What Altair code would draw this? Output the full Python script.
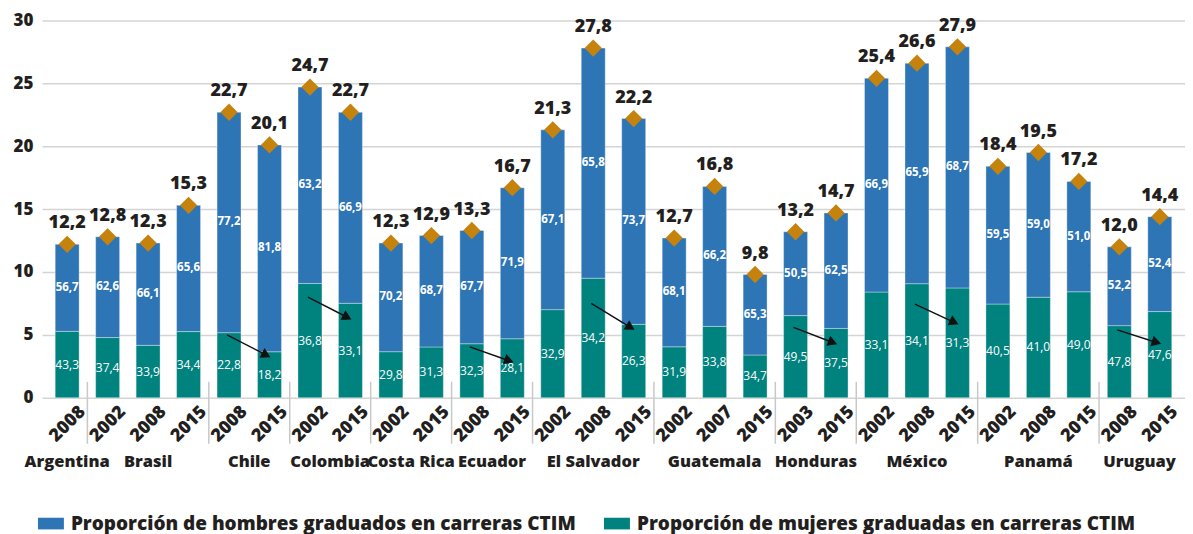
import math
import altair as alt
import pandas as pd

# ---------------- data ----------------
countries = ["Argentina", "Brasil", "Brasil", "Brasil", "Chile", "Chile",
             "Colombia", "Colombia", "Costa Rica", "Costa Rica", "Ecuador", "Ecuador",
             "El Salvador", "El Salvador", "El Salvador", "Guatemala", "Guatemala", "Guatemala",
             "Honduras", "Honduras", "México", "México", "México",
             "Panamá", "Panamá", "Panamá", "Uruguay", "Uruguay"]
years = ["2008", "2002", "2008", "2015", "2008", "2015", "2002", "2015", "2002", "2015",
         "2008", "2015", "2002", "2008", "2015", "2002", "2007", "2015", "2003", "2015",
         "2002", "2008", "2015", "2002", "2008", "2015", "2008", "2015"]
totals = [12.2, 12.8, 12.3, 15.3, 22.7, 20.1, 24.7, 22.7, 12.3, 12.9, 13.3, 16.7,
          21.3, 27.8, 22.2, 12.7, 16.8, 9.8, 13.2, 14.7, 25.4, 26.6, 27.9,
          18.4, 19.5, 17.2, 12.0, 14.4]
men_pct = [56.7, 62.6, 66.1, 65.6, 77.2, 81.8, 63.2, 66.9, 70.2, 68.7, 67.7, 71.9,
           67.1, 65.8, 73.7, 68.1, 66.2, 65.3, 50.5, 62.5, 66.9, 65.9, 68.7,
           59.5, 59.0, 51.0, 52.2, 52.4]
women_pct = [43.3, 37.4, 33.9, 34.4, 22.8, 18.2, 36.8, 33.1, 29.8, 31.3, 32.3, 28.1,
             32.9, 34.2, 26.3, 31.9, 33.8, 34.7, 49.5, 37.5, 33.1, 34.1, 31.3,
             40.5, 41.0, 49.0, 47.8, 47.6]

# arrows: start bar index, start / end heights
arrow_from = [4, 6, 10, 13, 18, 21, 26]
arrow_y0 = [5.0, 8.0, 4.05, 7.5, 5.6, 7.45, 5.4]
arrow_y1 = [3.4, 6.4, 2.95, 5.6, 4.4, 6.0, 4.4]

SER_M = "Proporción de hombres graduados en carreras CTIM"
SER_W = "Proporción de mujeres graduadas en carreras CTIM"

# ---------------- style ----------------
W, H = 1145, 378
N = len(totals)
BLUE, TEAL, GOLD, INK = "#2E75B6", "#00827F", "#C5830E", "#231f20"
FONT = "Open Sans"
HEAVY = 800


def fmt(v):
    return f"{v:.1f}".replace(".", ",")


rows, seg_rows = [], []
for i in range(N):
    w = totals[i] * women_pct[i] / 100
    rows.append(dict(idx=i, country=countries[i], year=years[i], total=totals[i],
                     tlabel=fmt(totals[i])))
    seg_rows.append(dict(idx=i, series=SER_W, y0=0, y1=w, mid=w / 2,
                         label=fmt(women_pct[i])))
    seg_rows.append(dict(idx=i, series=SER_M, y0=w, y1=totals[i],
                         mid=(w + totals[i]) / 2, label=fmt(men_pct[i])))
bars_df = pd.DataFrame(rows)
seg_df = pd.DataFrame(seg_rows)

px_x = W / N
px_y = H / 30
arr_rows = []
for s, a, b in zip(arrow_from, arrow_y0, arrow_y1):
    x0, x1 = s - 0.05, s + 1 - 0.08
    ang = math.degrees(math.atan2((a - b) * px_y, (x1 - x0) * px_x))
    arr_rows.append(dict(x0=x0, x1=x1, y0=a, y1=b, ang=ang))
arr_df = pd.DataFrame(arr_rows)

# country groups
grp = []
order_c = []
for c in countries:
    if c not in order_c:
        order_c.append(c)
for c in order_c:
    ids = [i for i in range(N) if countries[i] == c]
    grp.append(dict(country=c, center=sum(ids) / len(ids), start=min(ids) - 0.5))
grp_df = pd.DataFrame(grp)
sep_df = grp_df.iloc[1:]

x_scale = alt.Scale(domain=[-0.5, N - 0.5], nice=False, zero=False)
y_scale = alt.Scale(domain=[0, 30], nice=False)

years_js = "[" + ",".join(f"'{y}'" for y in years) + "]"

x_axis = alt.Axis(values=list(range(N)), labelExpr=f"{years_js}[datum.value]",
                  labelAngle=-45, labelAlign="center", labelBaseline="middle",
                  labelPadding=26, ticks=False, tickSize=0, domain=False, grid=False,
                  labelFont=FONT, labelFontSize=18, labelFontWeight=HEAVY,
                  labelColor=INK, labelOverlap=False, labelFlush=False, labelBound=False,
                  title=None)
y_axis = alt.Axis(values=[0, 5, 10, 15, 20, 25, 30], domain=False, ticks=False,
                  grid=True, gridColor="#d4d4d4", gridWidth=1.5,
                  labelFont=FONT, labelFontSize=17, labelFontWeight=HEAVY,
                  labelColor=INK, labelPadding=9, minExtent=32, title=None)

base_x = alt.X("idx:Q", scale=x_scale, axis=x_axis)

legend = alt.Legend(orient="none", legendX=-4, legendY=491, direction="horizontal",
                    title=None, symbolType="M-1,-0.45H1V0.45H-1Z", symbolSize=676,
                    symbolStrokeWidth=0, labelFont=FONT, labelFontSize=19,
                    labelFontWeight=HEAVY, labelColor=INK, labelOffset=7,
                    columnPadding=27, labelLimit=0, padding=0)

bars = alt.Chart(seg_df).mark_bar(width=24, stroke="#ffffff", strokeOpacity=0.35,
                                  strokeWidth=1).encode(
    x=base_x,
    y=alt.Y("y0:Q", scale=y_scale, axis=y_axis),
    y2="y1:Q",
    color=alt.Color("series:N", scale=alt.Scale(domain=[SER_M, SER_W], range=[BLUE, TEAL]),
                    legend=legend),
)

men_lbl = alt.Chart(seg_df).transform_filter(alt.datum.series == SER_M).mark_text(
    font=FONT, fontSize=11.5, fontWeight="bold", color="white").encode(
    x=alt.X("idx:Q", scale=x_scale), y=alt.Y("mid:Q", scale=y_scale), text="label:N")
women_lbl = alt.Chart(seg_df).transform_filter(alt.datum.series == SER_W).mark_text(
    font=FONT, fontSize=12, fontWeight="normal", color="white").encode(
    x=alt.X("idx:Q", scale=x_scale), y=alt.Y("mid:Q", scale=y_scale), text="label:N")

diam = alt.Chart(bars_df).mark_point(shape="diamond", filled=True, size=300,
                                     color=GOLD, opacity=1).encode(
    x=alt.X("idx:Q", scale=x_scale), y=alt.Y("total:Q", scale=y_scale))
tot_lbl = alt.Chart(bars_df).mark_text(font=FONT, fontSize=18, fontWeight=HEAVY,
                                       color=INK, dy=-21).encode(
    x=alt.X("idx:Q", scale=x_scale), y=alt.Y("total:Q", scale=y_scale), text="tlabel:N")

arr_line = alt.Chart(arr_df).mark_rule(color="#111111", strokeWidth=1.5).encode(
    x=alt.X("x0:Q", scale=x_scale), x2="x1:Q",
    y=alt.Y("y0:Q", scale=y_scale), y2="y1:Q")
arr_head = alt.Chart(arr_df).mark_point(shape="triangle-right", filled=True, size=120,
                                        color="#111111", opacity=1).encode(
    x=alt.X("x1:Q", scale=x_scale), y=alt.Y("y1:Q", scale=y_scale),
    angle=alt.Angle("ang:Q", scale=None))

seps = alt.Chart(sep_df).mark_rule(color="#c8c8c8", strokeWidth=1.5).encode(
    x=alt.X("start:Q", scale=x_scale), y=alt.value(H - 16), y2=alt.value(H + 46))

ctry = alt.Chart(grp_df).mark_text(font=FONT, fontSize=16.5, fontWeight=HEAVY,
                                   color=INK, baseline="middle").encode(
    x=alt.X("center:Q", scale=x_scale), y=alt.value(H + 64), text="country:N")

chart = alt.layer(bars, men_lbl, women_lbl, arr_line, arr_head, diam, tot_lbl,
                  seps, ctry).properties(
    width=W, height=H, padding={"left": 2, "top": 3, "right": 0, "bottom": 2}
).configure_view(stroke=None)

chart.save("out.html", embed_options={"renderer": "svg", "actions": False})
